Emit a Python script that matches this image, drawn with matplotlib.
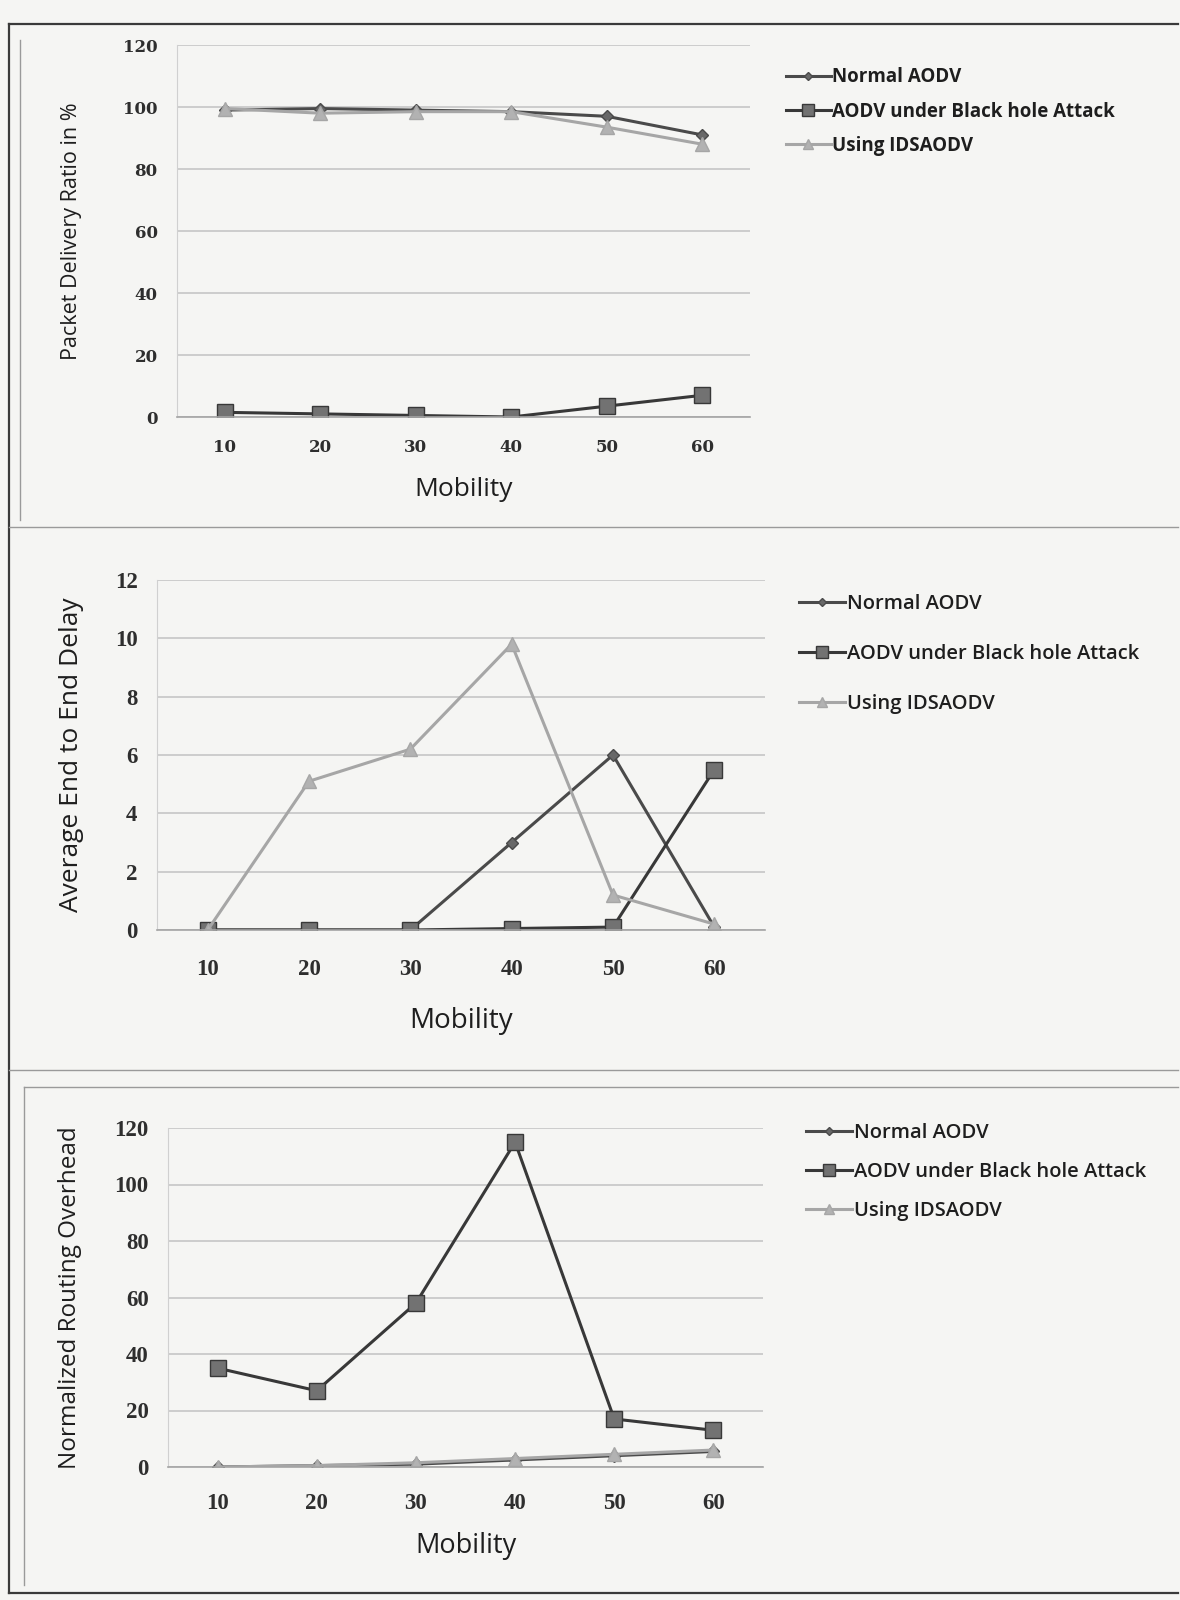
import matplotlib
matplotlib.use("Agg")
import matplotlib.pyplot as plt
from matplotlib.lines import Line2D

# Mobility categories shared by all three charts
mobility = ["10", "20", "30", "40", "50", "60"]
series_names = ["Normal AODV", "AODV under Black hole Attack", "Using IDSAODV"]

# Packet delivery ratio (%)
pdr_normal = [99.0, 99.5, 99.0, 98.5, 97.0, 91.0]
pdr_blackhole = [1.5, 1.0, 0.5, 0.0, 3.5, 7.0]
pdr_ids = [99.5, 98.0, 98.5, 98.5, 93.5, 88.0]

# Average end to end delay
delay_normal = [0.0, 0.0, 0.0, 3.0, 6.0, 0.1]
delay_blackhole = [0.0, 0.0, 0.0, 0.05, 0.1, 5.5]
delay_ids = [0.0, 5.1, 6.2, 9.8, 1.2, 0.2]

# Normalized routing overhead
nro_normal = [0.0, 0.5, 1.0, 2.5, 4.0, 5.5]
nro_blackhole = [35.0, 27.0, 58.0, 115.0, 17.0, 13.0]
nro_ids = [0.0, 0.5, 1.5, 3.0, 4.5, 6.0]

W, H = 1180, 1600
PAGE = "#f5f5f3"
fig = plt.figure(figsize=(W / 100, H / 100), dpi=100, facecolor=PAGE)

LABEL_FONT = ["Open Sans", "DejaVu Sans"]

styles = [
    dict(color="#4a4a4a", marker="D", markersize=6, markerfacecolor="#686868", markeredgecolor="#4a4a4a"),
    dict(color="#383838", marker="s", markersize=11, markerfacecolor="#727272", markeredgecolor="#383838"),
    dict(color="#a6a6a6", marker="^", markersize=10, markerfacecolor="#b2b2b2", markeredgecolor="#a6a6a6"),
]


def px_axes(left, top, right, bottom):
    return fig.add_axes([left / W, 1 - bottom / H, (right - left) / W, (bottom - top) / H])


def draw_chart(box, data, ymax, ystep, ylabel, tick_font, tick_fs, ypad, xpad,
               ylabel_fs, ylabel_x, xlabel_fs, xlabel_y,
               legend_xy, legend_fs, legend_weight, legend_sp, handle_len):
    ax = px_axes(*box)
    ax.set_facecolor("none")
    xs = list(range(len(mobility)))
    for vals, st in zip(data, styles):
        ax.plot(xs, vals, linewidth=2.2, **st)
    ax.set_xlim(-0.5, len(mobility) - 0.5)
    ax.set_ylim(0, ymax)
    ax.set_yticks(range(0, ymax + 1, ystep))
    ax.set_xticks(xs)
    ax.set_xticklabels(mobility)
    ax.grid(axis="y", color="#c6c6c6", linewidth=1.2)
    ax.set_axisbelow(True)
    for s in ["top", "right"]:
        ax.spines[s].set_visible(False)
    ax.spines["left"].set_color("#d0d0d0")
    ax.spines["bottom"].set_color("#a4a4a4")
    ax.spines["bottom"].set_linewidth(1.2)
    ax.tick_params(length=0, colors="#2e2e2e")
    ax.tick_params(axis="x", pad=xpad)
    ax.tick_params(axis="y", pad=ypad)
    for t in ax.get_xticklabels() + ax.get_yticklabels():
        t.set_fontfamily(tick_font)
        t.set_fontsize(tick_fs)
        t.set_fontweight("bold")
    ax.set_ylabel(ylabel, fontsize=ylabel_fs, family=LABEL_FONT, color="#1e1e1e")
    ax.yaxis.set_label_coords((ylabel_x - box[0]) / (box[2] - box[0]), 0.5)
    ax.yaxis.label.set_va("center")
    fig.text((box[0] + box[2]) / 2 / W, 1 - xlabel_y / H, "Mobility", fontsize=xlabel_fs,
             family=LABEL_FONT, color="#1e1e1e", ha="center", va="center")
    handles = [Line2D([], [], linewidth=2.2, **dict(st, markersize=st["markersize"] * 0.75))
               for st in styles]
    fig.legend(handles, series_names, loc="upper left",
               bbox_to_anchor=(legend_xy[0] / W, 1 - legend_xy[1] / H),
               frameon=False, handlelength=handle_len, handletextpad=0.1,
               labelspacing=legend_sp, borderaxespad=0, labelcolor="#1e1e1e",
               prop=dict(family=LABEL_FONT, size=legend_fs, weight=legend_weight))
    return ax


SERIF_WIDE = ["DejaVu Serif"]
SERIF = ["Liberation Serif", "DejaVu Serif"]

# Packet delivery ratio
draw_chart((177, 45, 750, 417), [pdr_normal, pdr_blackhole, pdr_ids], 120, 20,
           "Packet Delivery Ratio in %", SERIF_WIDE, 12, 14, 16,
           15.5, 72, 19, 489,
           (778, 60), 13.5, "bold", 0.75, 2.4)

# Average end to end delay
draw_chart((157, 580, 765, 930), [delay_normal, delay_blackhole, delay_ids], 12, 2,
           "Average End to End Delay", SERIF, 16.5, 14, 21,
           19, 72, 20, 1021,
           (791, 586), 14.5, "semibold", 1.5, 2.3)

# Normalized routing overhead
draw_chart((168, 1128, 763, 1467), [nro_normal, nro_blackhole, nro_ids], 120, 20,
           "Normalized Routing Overhead", SERIF, 16.5, 14, 19,
           17.5, 70, 19.5, 1546,
           (798, 1115), 14.5, "semibold", 0.95, 2.3)

# Page frame and panel separators
frame = dict(transform=fig.transFigure, color="#3a3a3a", linewidth=1.6)
fig.add_artist(Line2D([9 / W, 9 / W], [1 - 24 / H, 1 - 1593 / H], **frame))
fig.add_artist(Line2D([9 / W, 1178 / W], [1 - 24 / H, 1 - 24 / H], **frame))
fig.add_artist(Line2D([9 / W, 1178 / W], [1 - 1593 / H, 1 - 1593 / H], **frame))
sep = dict(transform=fig.transFigure, color="#9a9a9a", linewidth=1.0)
fig.add_artist(Line2D([9 / W, 1178 / W], [1 - 527 / H, 1 - 527 / H], **sep))
fig.add_artist(Line2D([9 / W, 1178 / W], [1 - 1070 / H, 1 - 1070 / H], **sep))
fig.add_artist(Line2D([24 / W, 1178 / W], [1 - 1087 / H, 1 - 1087 / H], **sep))
fig.add_artist(Line2D([24 / W, 24 / W], [1 - 1087 / H, 1 - 1585 / H], **sep))
fig.add_artist(Line2D([20 / W, 20 / W], [1 - 40 / H, 1 - 520 / H], **sep))

fig.savefig("out.png", dpi=100, facecolor=PAGE)
